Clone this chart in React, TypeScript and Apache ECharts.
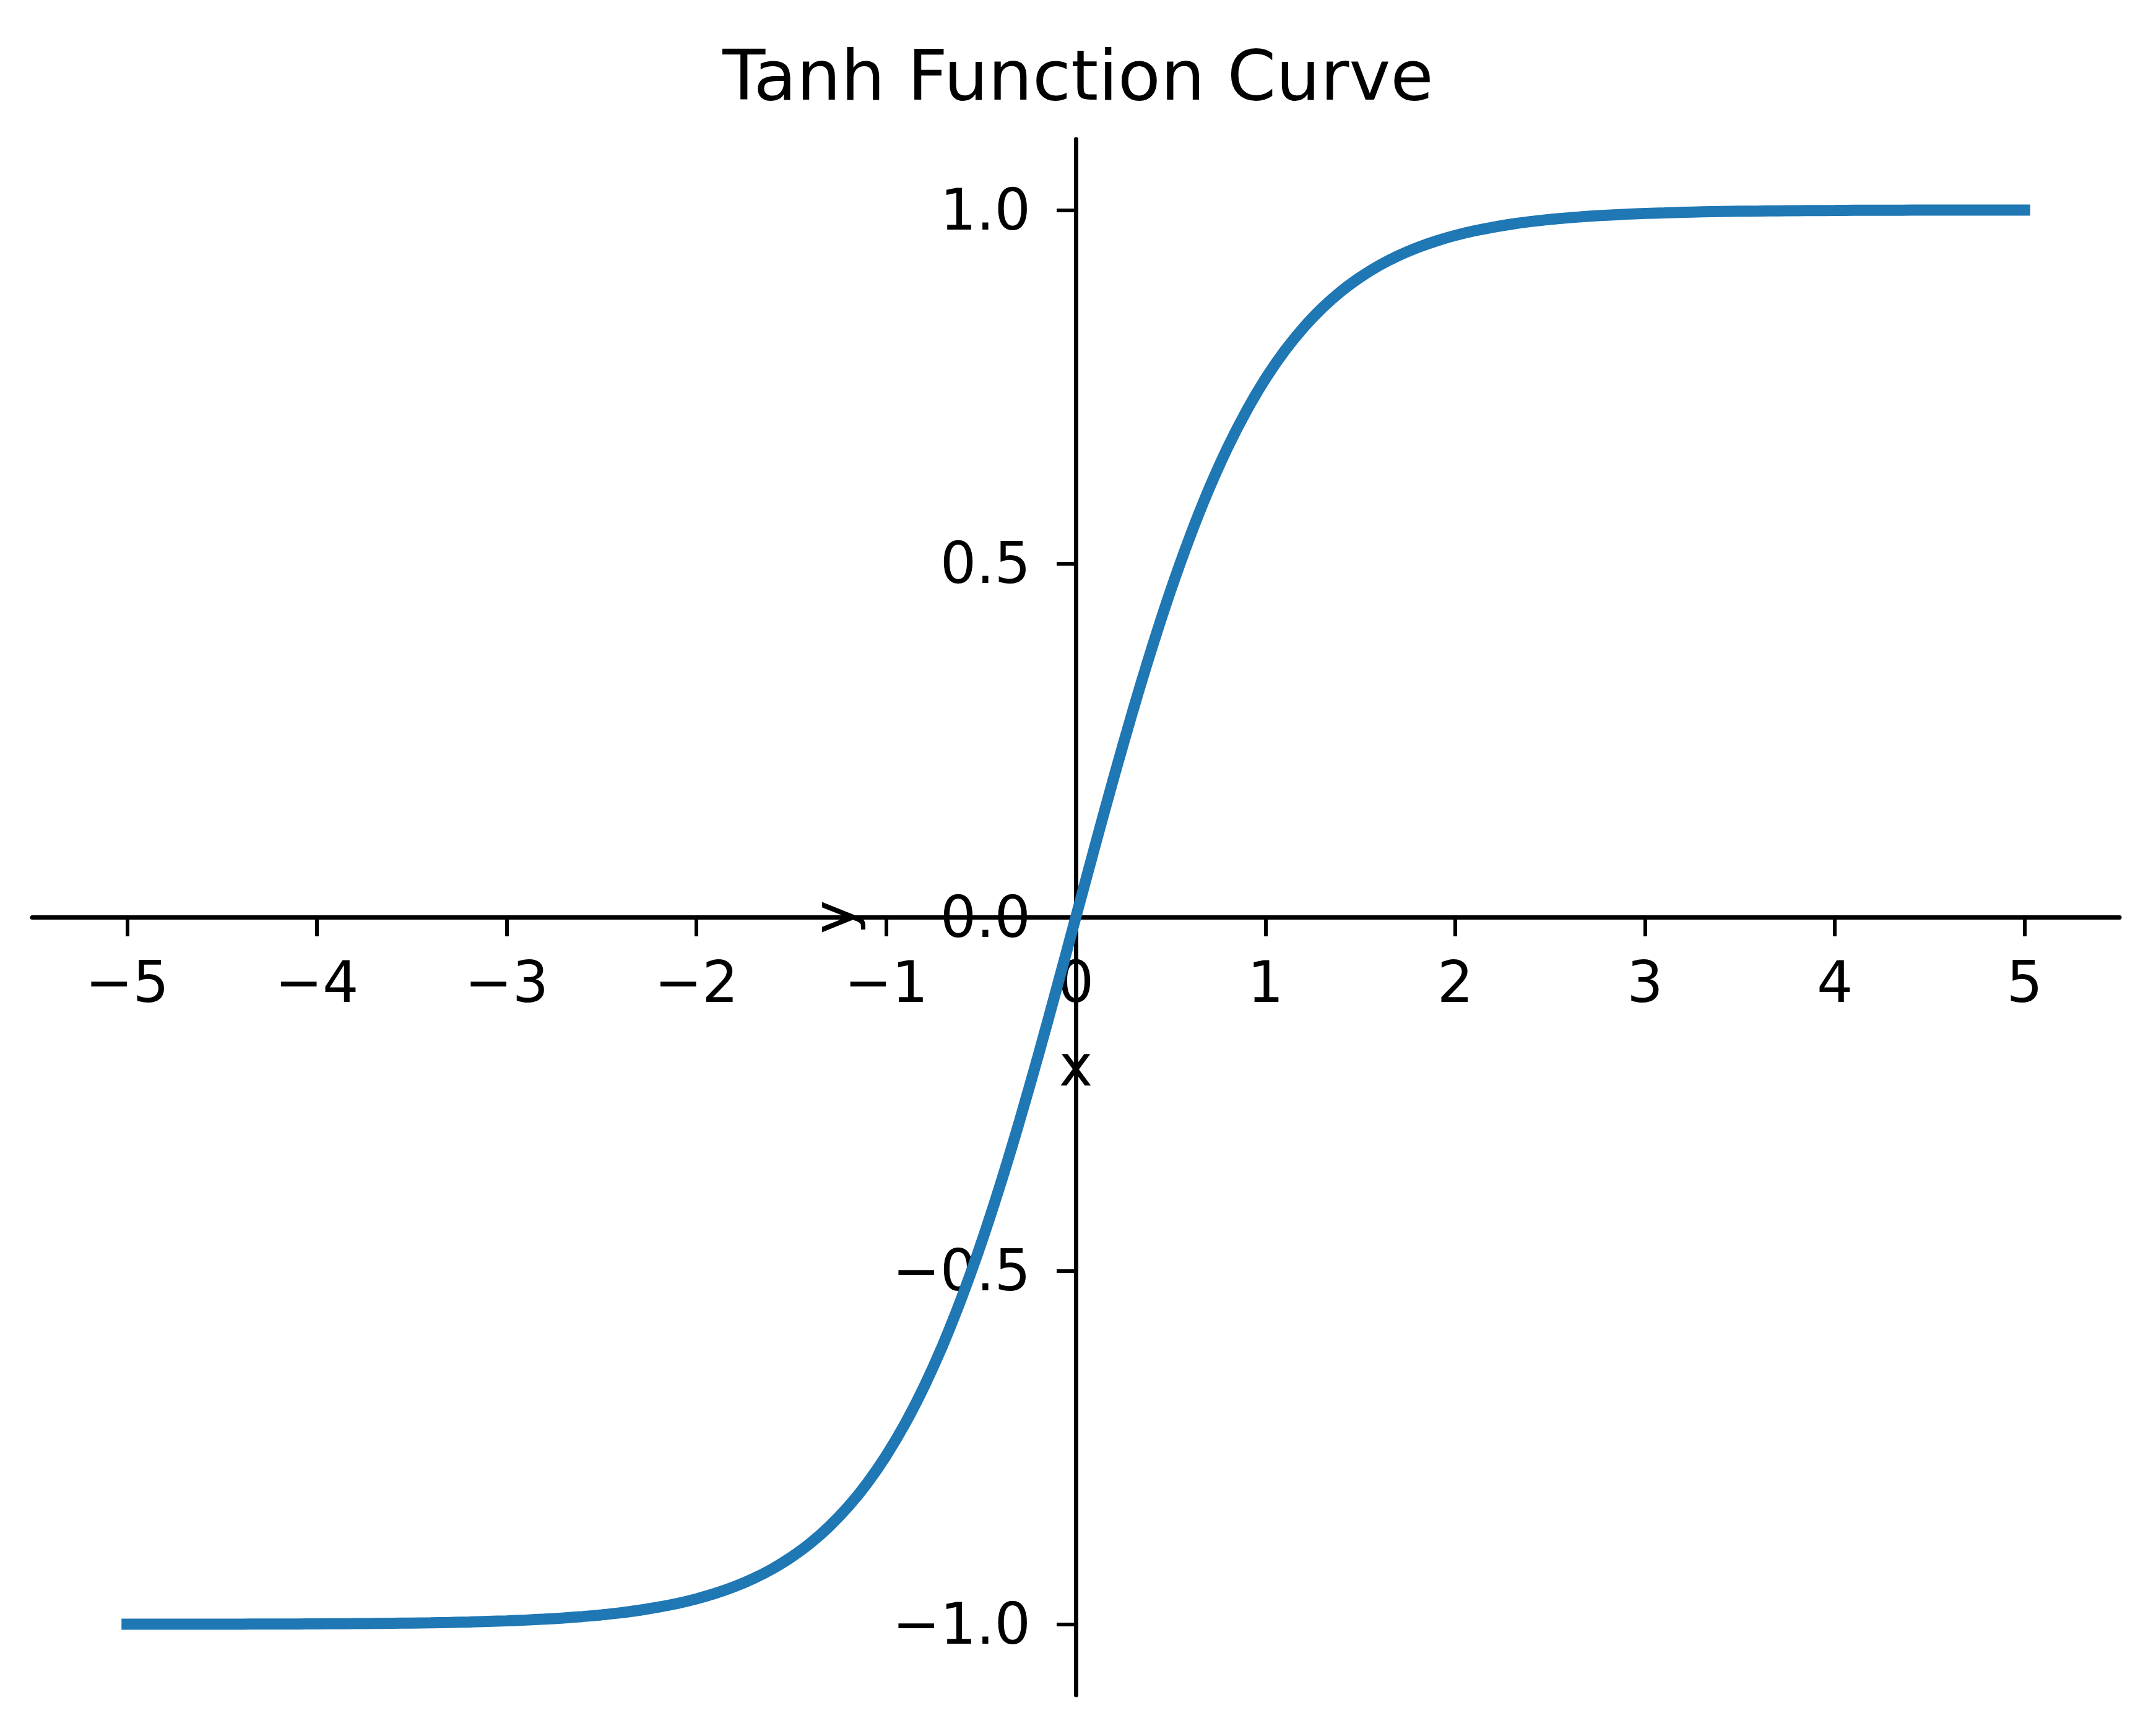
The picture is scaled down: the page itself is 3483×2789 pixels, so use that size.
import React, { useEffect, useRef } from "react";
import * as echarts from "echarts";

const titleText = "Tanh Function Curve";
const xName = "x";
const yName = "y";

const xValues = [
  -5.0, -4.9, -4.8, -4.7, -4.6, -4.5, -4.4, -4.3, -4.2, -4.1,
  -4.0, -3.9, -3.8, -3.7, -3.6, -3.5, -3.4, -3.3, -3.2, -3.1,
  -3.0, -2.9, -2.8, -2.7, -2.6, -2.5, -2.4, -2.3, -2.2, -2.1,
  -2.0, -1.9, -1.8, -1.7, -1.6, -1.5, -1.4, -1.3, -1.2, -1.1,
  -1.0, -0.9, -0.8, -0.7, -0.6, -0.5, -0.4, -0.3, -0.2, -0.1,
  0.0,
  0.1, 0.2, 0.3, 0.4, 0.5, 0.6, 0.7, 0.8, 0.9, 1.0,
  1.1, 1.2, 1.3, 1.4, 1.5, 1.6, 1.7, 1.8, 1.9, 2.0,
  2.1, 2.2, 2.3, 2.4, 2.5, 2.6, 2.7, 2.8, 2.9, 3.0,
  3.1, 3.2, 3.3, 3.4, 3.5, 3.6, 3.7, 3.8, 3.9, 4.0,
  4.1, 4.2, 4.3, 4.4, 4.5, 4.6, 4.7, 4.8, 4.9, 5.0,
];
const yValues = [
  -0.9999, -0.9999, -0.9999, -0.9998, -0.9998, -0.9998, -0.9997, -0.9996, -0.9996, -0.9995,
  -0.9993, -0.9992, -0.999, -0.9988, -0.9985, -0.9982, -0.9978, -0.9973, -0.9967, -0.9959,
  -0.9951, -0.994, -0.9926, -0.991, -0.989, -0.9866, -0.9837, -0.9801, -0.9757, -0.9705,
  -0.964, -0.9562, -0.9468, -0.9354, -0.9217, -0.9051, -0.8854, -0.8617, -0.8337, -0.8005,
  -0.7616, -0.7163, -0.664, -0.6044, -0.537, -0.4621, -0.3799, -0.2913, -0.1974, -0.0997,
  0.0,
  0.0997, 0.1974, 0.2913, 0.3799, 0.4621, 0.537, 0.6044, 0.664, 0.7163, 0.7616,
  0.8005, 0.8337, 0.8617, 0.8854, 0.9051, 0.9217, 0.9354, 0.9468, 0.9562, 0.964,
  0.9705, 0.9757, 0.9801, 0.9837, 0.9866, 0.989, 0.991, 0.9926, 0.994, 0.9951,
  0.9959, 0.9967, 0.9973, 0.9978, 0.9982, 0.9985, 0.9988, 0.999, 0.9992, 0.9993,
  0.9995, 0.9996, 0.9996, 0.9997, 0.9998, 0.9998, 0.9998, 0.9999, 0.9999, 0.9999,
];

const xTicks = [-5, -4, -3, -2, -1, 0, 1, 2, 3, 4, 5];
const yTicks = [-1.0, -0.5, 0.0, 0.5, 1.0];

const X_MIN = -5.5;
const X_MAX = 5.5;
const Y_MIN = -1.1;
const Y_MAX = 1.1;

const FONT = "DejaVu Sans";

const W = 3483;
const H = 2789;
const G_LEFT = 52;
const G_TOP = 225;
const G_W = 3372;
const G_H = 2514;

function fmtX(v: number): string {
  const r = Math.round(v);
  return r < 0 ? "\u2212" + Math.abs(r) : String(r);
}
function fmtY(v: number): string {
  const s = Math.abs(v).toFixed(1);
  return v < -1e-9 ? "\u2212" + s : s;
}

export default function App() {
  const ref = useRef<HTMLDivElement>(null);
  useEffect(() => {
    if (!ref.current) return;
    const chart = echarts.init(ref.current, null, { renderer: "svg" });
    const data = xValues.map((x, i) => [x, yValues[i]]);
    // pixel offsets that move the axes onto the zero lines
    const yAxisShift = ((0 - X_MIN) / (X_MAX - X_MIN)) * G_W;
    const xAxisShift = ((0 - Y_MIN) / (Y_MAX - Y_MIN)) * G_H;
    chart.setOption({
      animation: false,
      backgroundColor: "#ffffff",
      title: {
        text: titleText,
        left: "center",
        top: 65,
        padding: 0,
        textStyle: {
          fontFamily: FONT,
          fontSize: 113,
          fontWeight: "normal",
          color: "#000000",
        },
      },
      grid: {
        left: G_LEFT,
        top: G_TOP,
        width: G_W,
        height: G_H,
        containLabel: false,
        outerBoundsMode: "none",
      },
      xAxis: {
        type: "value",
        position: "bottom",
        offset: -xAxisShift,
        min: X_MIN,
        max: X_MAX,
        name: xName,
        nameLocation: "middle",
        nameGap: 194,
        nameTextStyle: { fontFamily: FONT, fontSize: 92, color: "#000" },
        axisLine: {
          show: true,
          onZero: false,
          lineStyle: { color: "#000", width: 7 },
        },
        axisTick: {
          show: true,
          length: 31,
          lineStyle: { color: "#000", width: 6 },
          customValues: xTicks,
        },
        axisLabel: {
          show: true,
          margin: 59,
          fontFamily: FONT,
          fontSize: 92,
          color: "#000",
          customValues: xTicks,
          formatter: (v: number) => fmtX(v),
        },
        splitLine: { show: false },
      },
      yAxis: {
        type: "value",
        position: "left",
        offset: -yAxisShift,
        min: Y_MIN,
        max: Y_MAX,
        name: yName,
        nameLocation: "middle",
        nameGap: 345,
        nameTextStyle: { fontFamily: FONT, fontSize: 92, color: "#000" },
        axisLine: {
          show: true,
          onZero: false,
          lineStyle: { color: "#000", width: 7 },
        },
        axisTick: {
          show: true,
          length: 31,
          lineStyle: { color: "#000", width: 6 },
          customValues: yTicks,
        },
        axisLabel: {
          show: true,
          margin: 73,
          fontFamily: FONT,
          fontSize: 92,
          color: "#000",
          customValues: yTicks,
          formatter: (v: number) => fmtY(v),
        },
        splitLine: { show: false },
      },
      series: [
        {
          type: "line",
          data,
          smooth: 0.3,
          showSymbol: false,
          symbol: "none",
          lineStyle: { color: "#1f77b4", width: 18, cap: "square" },
          itemStyle: { color: "#1f77b4" },
        },
      ],
    });
    return () => chart.dispose();
  }, []);
  return (
    <div
      ref={ref}
      style={{
        position: "absolute",
        left: 0,
        top: 0,
        width: W,
        height: H,
        background: "#fff",
      }}
    />
  );
}
